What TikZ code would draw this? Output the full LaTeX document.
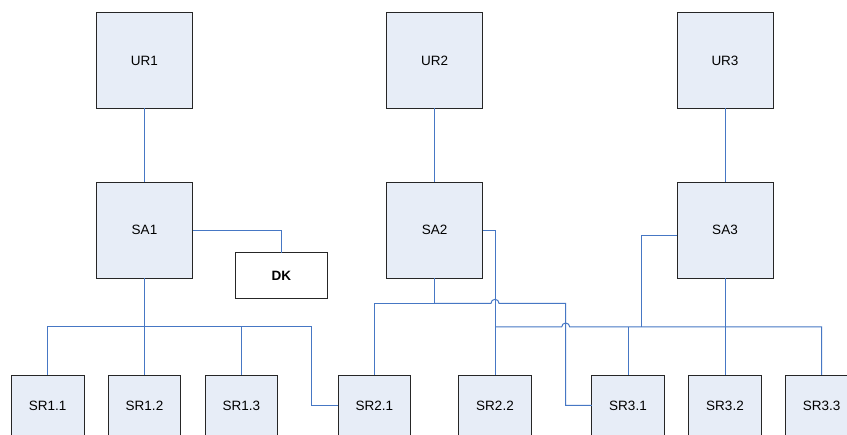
\documentclass[tikz,border=0pt]{standalone}
\usepackage{fontspec}
\setmainfont{Liberation Sans}
\definecolor{boxfill}{HTML}{E7EDF7}
\definecolor{wire}{HTML}{4677C4}
\begin{document}
\begin{tikzpicture}[x=1pt,y=-1pt,
  box/.style={draw=black!85, line width=0.9pt, fill=boxfill, inner sep=0pt, outer sep=0pt,
    minimum width=96pt, minimum height=96pt, font=\fontsize{13.5}{16}\selectfont},
  srbox/.style={box, minimum width=72.5pt, minimum height=61pt},
  dkbox/.style={draw=black!85, line width=0.9pt, fill=white, inner sep=0pt, outer sep=0pt,
    minimum width=92.7pt, minimum height=46pt, font=\fontsize{13.5}{16}\selectfont\bfseries},
  wire/.style={draw=wire, line width=1pt}]
\clip (0,0) rectangle (847,435);
\fill[white] (0,0) rectangle (847,435);

% upper row
\node[box] (UR1) at (144.5,60.5) {UR1};
\node[box] (UR2) at (434.7,60.5) {UR2};
\node[box] (UR3) at (725,60.5) {UR3};
% middle row
\node[box] (SA1) at (144.5,230.3) {SA1};
\node[box] (SA2) at (434.7,230.3) {SA2};
\node[box] (SA3) at (725,230.3) {SA3};
\node[dkbox] (DK) at (281.4,275.7) {DK};
% lower row
\node[srbox] (SR11) at (47.7,405.5) {SR1.1};
\node[srbox] (SR12) at (144.5,405.5) {SR1.2};
\node[srbox] (SR13) at (241.3,405.5) {SR1.3};
\node[srbox] (SR21) at (374.3,405.5) {SR2.1};
\node[srbox] (SR22) at (495,405.5) {SR2.2};
\node[srbox] (SR31) at (628,405.5) {SR3.1};
\node[srbox] (SR32) at (725,405.5) {SR3.2};
\node[srbox] (SR33) at (821.7,405.5) {SR3.3};

% bend points
\coordinate (b1) at (311,327);
\coordinate (b2) at (565.7,303.3);
\coordinate (b3) at (641,235.7);

% vertical links
\draw[wire] (UR1.south) -- (SA1.north);
\draw[wire] (UR2.south) -- (SA2.north);
\draw[wire] (UR3.south) -- (SA3.north);
\draw[wire] (SA1.east) -| (DK.north);
\draw[wire] (SA1.south) -- (SR12.north);
\draw[wire] (SA3.south) -- (SR32.north);

% SA1 bus
\draw[wire] (SR11.north) |- (b1) |- (SR21.west);
\draw[wire] (SR13.north) -- (SR13.north |- b1);

% SA2 links
\draw[wire] (SA2.south) -- (SA2.south |- b2) -| (SR21.north);
\draw[wire] (SA2.south |- b2) -- (491,303.3)
  arc[start angle=180, end angle=360, radius=4] -- (b2) |- (SR31.west);
\draw[wire] (SA2.east) -| (SR22.north);

% SA3 bus
\draw[wire] (SA3.west |- b3) -- (b3) -- (b3 |- b1);
\draw[wire] (SR22.north |- b1) -- (561.7,327)
  arc[start angle=180, end angle=360, radius=4] -- (SR33.north |- b1) -- (SR33.north);
\draw[wire] (SR31.north) -- (SR31.north |- b1);
\end{tikzpicture}
\end{document}
